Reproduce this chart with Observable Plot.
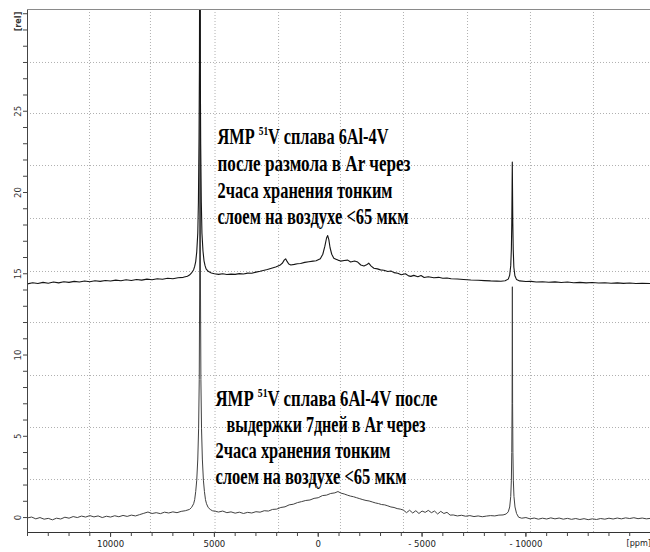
<!DOCTYPE html>
<html>
<head>
<meta charset="utf-8">
<script src="https://cdn.jsdelivr.net/npm/d3@7"></script>
<script src="https://cdn.jsdelivr.net/npm/@observablehq/plot@0.6"></script>
<style>
  html, body { margin: 0; padding: 0; background: #fff; overflow: hidden; }
  #chart svg { display: block; }
</style>
</head>
<body>
<div id="chart"></div>
<script>
// ---- data (ppm, intensity [rel]) ----
const upperTrace = [[14000,14.38],[13750,14.45],[13500,14.40],[13250,14.47],[13000,14.42],[12750,14.49],[12500,14.44],[12250,14.51],[12000,14.47],[11750,14.53],[11500,14.49],[11250,14.55],[11000,14.51],[10750,14.57],[10500,14.53],[10250,14.59],[10000,14.55],[9750,14.61],[9500,14.57],[9250,14.63],[9000,14.59],[8750,14.65],[8500,14.61],[8250,14.67],[8000,14.63],[7750,14.69],[7500,14.66],[7250,14.72],[7000,14.69],[6750,14.75],[6500,14.78],[6300,14.85],[6200,14.92],[6100,15.05],[6000,15.25],[5950,15.45],[5900,15.75],[5850,16.35],[5800,17.5],[5770,19.4],[5740,23.4],[5720,28],[5700,42],[5680,28],[5660,23],[5630,19.4],[5600,17.5],[5550,16.4],[5500,15.8],[5450,15.5],[5400,15.3],[5300,15.15],[5150,15.05],[5000,15.0],[4800,14.96],[4600,15.0],[4400,14.95],[4200,14.98],[4000,14.96],[3800,15.01],[3600,14.99],[3400,15.04],[3200,15.03],[3000,15.10],[2800,15.15],[2600,15.22],[2450,15.26],[2250,15.34],[2050,15.42],[1850,15.52],[1720,15.66],[1640,15.84],[1570,15.92],[1500,15.76],[1420,15.60],[1320,15.54],[1150,15.58],[1000,15.62],[850,15.63],[650,15.70],[450,15.74],[250,15.78],[100,15.80],[-100,15.92],[-220,16.2],[-320,16.7],[-400,17.2],[-455,17.35],[-510,17.1],[-570,16.6],[-650,16.2],[-750,15.96],[-850,15.90],[-950,15.84],[-1080,15.78],[-1250,15.82],[-1420,15.84],[-1560,15.72],[-1750,15.78],[-1900,15.72],[-2050,15.54],[-2200,15.48],[-2330,15.55],[-2430,15.65],[-2550,15.47],[-2680,15.34],[-2850,15.30],[-3000,15.24],[-3160,15.22],[-3350,15.14],[-3500,15.17],[-3650,15.07],[-3830,15.03],[-4000,14.94],[-4200,15.00],[-4350,14.87],[-4460,14.84],[-4600,14.90],[-4800,14.82],[-4950,14.89],[-5100,14.77],[-5300,14.82],[-5570,14.75],[-5800,14.78],[-6000,14.72],[-6200,14.74],[-6400,14.69],[-6700,14.68],[-7000,14.65],[-7350,14.62],[-7700,14.60],[-8000,14.58],[-8300,14.56],[-8600,14.55],[-8800,14.54],[-9000,14.57],[-9150,14.67],[-9220,14.92],[-9270,15.5],[-9300,16.5],[-9320,18.1],[-9335,20.3],[-9345,21.88],[-9355,20.3],[-9370,18.1],[-9390,16.5],[-9420,15.4],[-9470,14.88],[-9550,14.64],[-9700,14.56],[-10000,14.52],[-10250,14.53],[-10500,14.49],[-10800,14.51],[-11100,14.48],[-11400,14.50],[-11700,14.46],[-12000,14.49],[-12300,14.45],[-12600,14.47],[-12900,14.44],[-13200,14.46],[-13500,14.43],[-13800,14.45],[-14100,14.42],[-14400,14.44],[-14700,14.41],[-15000,14.43],[-15300,14.40],[-15600,14.42],[-16000,14.40]];

const lowerTrace = [[14000,-0.02],[13800,0.03],[13600,-0.08],[13400,0.0],[13200,-0.10],[13000,-0.05],[12800,-0.14],[12600,-0.04],[12400,-0.09],[12200,0.02],[12000,-0.04],[11800,0.06],[11600,0.0],[11400,0.09],[11200,0.03],[11000,0.12],[10800,0.04],[10600,0.10],[10400,0.0],[10200,0.08],[10000,0.03],[9800,0.11],[9600,0.05],[9400,0.13],[9200,0.07],[9000,0.15],[8800,0.10],[8600,0.18],[8400,0.26],[8200,0.34],[8000,0.25],[7800,0.30],[7600,0.24],[7400,0.33],[7200,0.28],[7000,0.35],[6800,0.30],[6600,0.38],[6400,0.42],[6200,0.50],[6100,0.62],[6000,0.85],[5950,1.1],[5900,1.6],[5850,2.3],[5800,3.6],[5760,5.5],[5730,8.5],[5710,14],[5690,45],[5670,14],[5650,8.5],[5620,5.5],[5580,3.6],[5530,2.3],[5480,1.6],[5430,1.1],[5380,0.85],[5300,0.62],[5200,0.50],[5100,0.42],[4950,0.38],[4800,0.34],[4600,0.40],[4400,0.30],[4200,0.35],[4000,0.27],[3800,0.33],[3600,0.25],[3400,0.32],[3200,0.28],[3000,0.36],[2800,0.33],[2600,0.42],[2400,0.40],[2200,0.50],[2000,0.52],[1800,0.62],[1600,0.66],[1400,0.78],[1200,0.82],[1000,0.92],[800,0.98],[600,1.05],[400,1.08],[200,1.18],[0,1.22],[-200,1.35],[-400,1.38],[-600,1.48],[-800,1.52],[-950,1.60],[-1100,1.50],[-1250,1.45],[-1400,1.38],[-1550,1.32],[-1700,1.28],[-1850,1.22],[-2000,1.16],[-2150,1.10],[-2300,1.05],[-2450,1.02],[-2600,0.96],[-2750,0.90],[-2900,0.86],[-3050,0.80],[-3200,0.78],[-3350,0.72],[-3500,0.65],[-3650,0.62],[-3800,0.55],[-3950,0.52],[-4100,0.46],[-4250,0.30],[-4400,0.45],[-4550,0.28],[-4700,0.42],[-4850,0.25],[-5000,0.40],[-5150,0.32],[-5300,0.44],[-5450,0.30],[-5600,0.40],[-5750,0.22],[-5900,0.38],[-6050,0.25],[-6200,0.32],[-6350,0.15],[-6500,0.16],[-6700,0.10],[-6900,0.14],[-7100,0.08],[-7300,0.12],[-7500,0.06],[-7700,0.10],[-7900,0.05],[-8100,0.09],[-8300,0.12],[-8500,0.10],[-8700,0.15],[-8900,0.16],[-9050,0.22],[-9150,0.35],[-9220,0.65],[-9270,1.3],[-9300,2.3],[-9320,4.0],[-9335,7.0],[-9348,14.2],[-9360,7.0],[-9375,4.0],[-9395,2.3],[-9425,1.3],[-9475,0.65],[-9550,0.25],[-9650,0.02],[-9800,-0.04],[-10000,0.0],[-10200,-0.08],[-10400,-0.03],[-10600,-0.10],[-10800,-0.04],[-11000,-0.09],[-11200,-0.02],[-11400,-0.08],[-11600,-0.03],[-11800,-0.10],[-12000,-0.05],[-12200,-0.11],[-12400,-0.06],[-12600,-0.12],[-12800,-0.07],[-13000,-0.13],[-13200,-0.08],[-13400,-0.12],[-13600,-0.06],[-13800,-0.10],[-14000,-0.04],[-14200,-0.09],[-14400,-0.03],[-14600,-0.08],[-14800,-0.02],[-15000,-0.06],[-15200,-0.01],[-15400,-0.07],[-15600,-0.03],[-15800,-0.08],[-16000,-0.05]];

// ---- axes / ticks ----
const xDomain = [14000, -16000];
const yDomain = [-0.92, 31.26];
const xMajor = [10000, 5000, 0, -5000, -10000];
const xLabels = ["10000", "5000", "0", "- 5000", "- 10000"];
const xMinor = d3.range(-16000, 14001, 1000);
const yMajor = [0, 5, 10, 15, 20, 25];
const yLabels = ["0", "5", "10", "15", "20", "25"];
const yMinor = d3.range(0, 32, 1);
const xGrid = [11015, 8080, 4970, 1910, -1070, -4105, -7190, -10220, -13255];
const yGrid = [2.34, 5.54, 8.74, 12.0, 15.14, 18.4, 21.66, 24.86, 28.0];
const yUnit = "[rel]";
const xUnit = "[ppm]";

// ---- annotation text ----
const annoLines = [
  "ЯМР 51V сплава 6Al-4V",
  "после размола в Ar через",
  "2часа хранения тонким",
  "слоем на воздухе <65 мкм",
  "ЯМР 51V сплава 6Al-4V после",
  " выдержки 7дней в Ar через",
  "2часа хранения тонким",
  "слоем на воздухе <65 мкм"
];
// layout (kept separate from the data)
const annoPos = [[4851,23.45],[4851,21.78],[4851,20.12],[4851,18.52],[4947,7.32],[4610,5.72],[4947,4.12],[4947,2.52]];
const annoWidths = [171, 193, 175, 191, 222, 203, 175, 191];

const tickFont = "'Liberation Sans Narrow', 'Arial Narrow', 'DejaVu Sans Condensed', 'Liberation Sans', sans-serif";
const serifFont = "'Liberation Serif', 'Times New Roman', serif";

const svg = Plot.plot({
  width: 650,
  height: 552,
  marginLeft: 27,
  marginRight: 0,
  marginTop: 9,
  marginBottom: 20,
  style: {background: "#fff", overflow: "hidden", fontFamily: tickFont},
  x: {domain: xDomain},
  y: {domain: yDomain},
  marks: [
    Plot.ruleX(xGrid, {stroke: "#b0b0b0", strokeDasharray: "1,2"}),
    Plot.ruleY(yGrid, {stroke: "#b0b0b0", strokeDasharray: "1,2"}),
    Plot.line(lowerTrace, {x: d => d[0], y: d => d[1], stroke: "#404040", strokeWidth: 1, clip: true}),
    Plot.line(upperTrace, {x: d => d[0], y: d => d[1], stroke: "#151515", strokeWidth: 1.1, clip: true}),
    Plot.ruleX([xDomain[0]], {stroke: "#444"}),
    Plot.ruleY([yDomain[1]], {stroke: "#8a8a8a"}),
    Plot.ruleY([yDomain[0]], {stroke: "#333"}),
    Plot.axisX(xMinor, {tickSize: 4, tickFormat: () => "", stroke: "#444", label: null}),
    Plot.axisX(xMajor, {tickSize: 5, tickPadding: 3, tickFormat: d => xLabels[xMajor.indexOf(d)], fontSize: 9.5, fill: "#222", stroke: "#444", label: null}),
    Plot.axisY(yMinor, {tickSize: 4, tickFormat: () => "", stroke: "#444", label: null}),
    Plot.text(yMajor, {y: d => d, text: (d, i) => yLabels[i], frameAnchor: "left", dx: -7, rotate: -90, textAnchor: "middle", lineAnchor: "bottom", fontSize: 9.5, fill: "#333"}),
    Plot.text([yUnit], {text: d => d, frameAnchor: "top-left", dx: -7, dy: 12, rotate: -90, textAnchor: "middle", lineAnchor: "bottom", fontSize: 9, fontWeight: "bold", fill: "#333"}),
    Plot.text([xUnit], {text: d => d, frameAnchor: "bottom-right", dx: -24, dy: 13, textAnchor: "start", fontSize: 9, fill: "#222"}),
    Plot.text(annoLines, {
      x: (d, i) => annoPos[i][0], y: (d, i) => annoPos[i][1], text: d => d,
      textAnchor: "start", lineAnchor: "middle",
      fontFamily: serifFont, fontWeight: "bold", fontSize: 22.5, fill: "#000"
    })
  ]
});

// compress annotation lines to the reference widths and raise the isotope number
const annoTexts = Array.from(svg.querySelectorAll("text")).filter(el => annoLines.includes(el.textContent));
annoTexts.forEach((node, i) => {
  const el = d3.select(node);
  const t = node.textContent;
  const idx = annoLines.indexOf(t, i);
  const j = idx >= 0 ? idx : i;
  el.attr("textLength", annoWidths[j]).attr("lengthAdjust", "spacingAndGlyphs");
  const k = t.indexOf("51V");
  if (k >= 0) {
    el.text(null);
    el.append("tspan").text(t.slice(0, k));
    el.append("tspan").attr("font-size", 13).attr("dy", -8.5).text("51");
    el.append("tspan").attr("dy", 8.5).text(t.slice(k + 2));
  }
});

document.getElementById("chart").appendChild(svg);
</script>
</body>
</html>
